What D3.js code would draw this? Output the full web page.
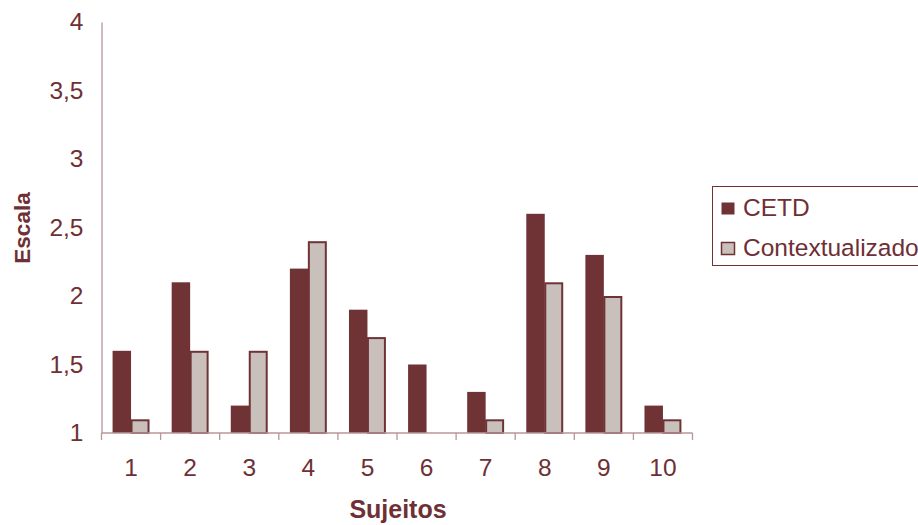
<!DOCTYPE html>
<html>
<head>
<meta charset="utf-8">
<script src="https://cdn.jsdelivr.net/npm/d3@7"></script>
<style>
  html, body { margin: 0; padding: 0; background: #ffffff; }
  svg { display: block; font-family: "Liberation Sans", Arial, sans-serif; }
</style>
</head>
<body>
<svg id="chart" width="918" height="525"></svg>
<script>
// Subjects on the x axis
const subjects = ["1", "2", "3", "4", "5", "6", "7", "8", "9", "10"];
// Series names
const seriesNames = ["CETD", "Contextualizado"];
// Scores per subject
const cetd = [1.6, 2.1, 1.2, 2.2, 1.9, 1.5, 1.3, 2.6, 2.3, 1.2];
const contextualizado = [1.1, 1.6, 1.6, 2.4, 1.7, 1.0, 1.1, 2.1, 2.0, 1.1];
// Y tick values and their labels (comma decimals)
const yTicks = [1, 1.5, 2, 2.5, 3, 3.5, 4];
const yTickLabels = ["1", "1,5", "2", "2,5", "3", "3,5", "4"];

const textColor = "#6e3035";
const barDark = "#6f3336";
const barLight = "#c9c0bb";
const axisColor = "#b8969a";

const svg = d3.select("#chart");

const plot = { left: 101.5, right: 692.5, top: 22, bottom: 433 };

const x = d3.scaleBand().domain(subjects).range([plot.left, plot.right]).padding(0);
const x1 = d3.scaleBand().domain(seriesNames).range([0, x.bandwidth()])
  .paddingInner(0).paddingOuter(0.6);
const y = d3.scaleLinear().domain([1, 4]).range([plot.bottom, plot.top]);

const color = d3.scaleOrdinal().domain(seriesNames).range([barDark, barLight]);

const rows = subjects.map((s, i) => ({ subject: s, values: [cetd[i], contextualizado[i]] }));

// Bars
const groups = svg.append("g").selectAll("g").data(rows).join("g")
  .attr("transform", d => `translate(${x(d.subject)},0)`);

groups.selectAll("rect")
  .data(d => seriesNames.map((name, k) => ({ name, value: d.values[k] })))
  .join("rect")
  .attr("x", d => x1(d.name) + (d.name === "CETD" ? 0 : 0.5))
  .attr("width", d => x1.bandwidth() - (d.name === "CETD" ? 0 : 1.5))
  .attr("y", d => y(d.value) + (d.name === "CETD" ? 0 : 1))
  .attr("height", d => Math.max(0, y(1) - y(d.value) - (d.name === "CETD" ? 0 : 1)))
  .attr("fill", d => color(d.name))
  .attr("stroke", d => d.name === "CETD" ? "none" : barDark)
  .attr("stroke-width", 2);

// Y axis (line and labels only)
const yAxis = svg.append("g")
  .attr("transform", `translate(${plot.left},0)`)
  .call(d3.axisLeft(y).tickValues(yTicks).tickSize(0).tickPadding(18)
    .tickFormat((d, i) => yTickLabels[i]));
yAxis.select(".domain").attr("stroke", axisColor).attr("stroke-width", 1.3);
yAxis.selectAll("text")
  .attr("fill", textColor)
  .attr("font-size", 24.5)
  .attr("font-family", "'Liberation Sans', Arial, sans-serif");

// X axis with tick marks on the category boundaries
const xAxisG = svg.append("g").attr("transform", `translate(0,${plot.bottom})`);
xAxisG.append("line")
  .attr("x1", plot.left).attr("x2", plot.right)
  .attr("stroke", axisColor).attr("stroke-width", 1.3);
const boundaries = subjects.map(s => x(s)).concat([x(subjects[subjects.length - 1]) + x.bandwidth()]);
xAxisG.selectAll("line.tick").data(boundaries).join("line")
  .attr("class", "tick")
  .attr("x1", d => d).attr("x2", d => d)
  .attr("y1", 0).attr("y2", 7)
  .attr("stroke", axisColor).attr("stroke-width", 1.3);
xAxisG.selectAll("text").data(subjects).join("text")
  .attr("x", d => x(d) + x.bandwidth() / 2)
  .attr("y", 43)
  .attr("text-anchor", "middle")
  .attr("fill", textColor)
  .attr("font-size", 24.5)
  .text(d => d);

// Axis titles
svg.append("text")
  .attr("x", 398).attr("y", 518)
  .attr("text-anchor", "middle")
  .attr("fill", textColor)
  .attr("font-size", 25)
  .attr("font-weight", "bold")
  .text("Sujeitos");

svg.append("text")
  .attr("transform", "translate(30,228) rotate(-90)")
  .attr("text-anchor", "middle")
  .attr("fill", textColor)
  .attr("font-size", 22.5)
  .attr("font-weight", "bold")
  .text("Escala");

// Legend
const legend = svg.append("g");
legend.append("rect")
  .attr("x", 712.5).attr("y", 186.5)
  .attr("width", 220).attr("height", 79)
  .attr("fill", "#ffffff")
  .attr("stroke", barDark).attr("stroke-width", 1);

const legendItems = legend.selectAll("g").data(seriesNames).join("g")
  .attr("transform", (d, i) => `translate(721,${202 + i * 40})`);
legendItems.append("rect")
  .attr("x", 0.5).attr("y", 0.5)
  .attr("width", 13).attr("height", 12)
  .attr("fill", d => color(d))
  .attr("stroke", d => d === "CETD" ? "none" : barDark)
  .attr("stroke-width", 1.5);
legendItems.append("text")
  .attr("x", 22).attr("y", 13.5)
  .attr("fill", textColor)
  .attr("font-size", 24.5)
  .text(d => d);
</script>
</body>
</html>
